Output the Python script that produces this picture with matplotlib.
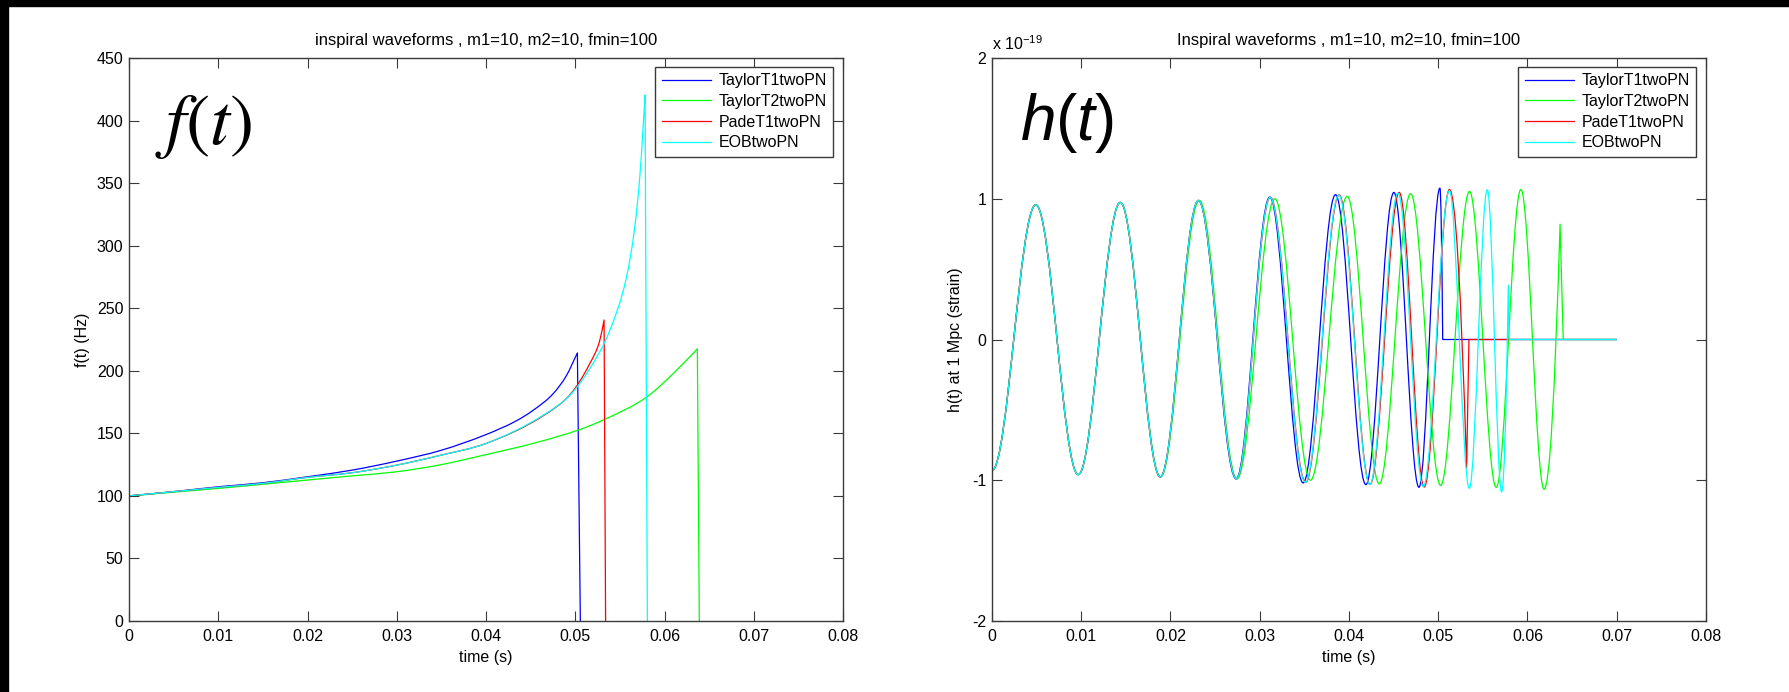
import numpy as np
import matplotlib.pyplot as plt
from matplotlib.path import Path
from matplotlib.patches import PathPatch, Rectangle
from matplotlib.lines import Line2D

plt.rcParams['font.family'] = 'Liberation Sans'
plt.rcParams['axes.unicode_minus'] = False
plt.rcParams['mathtext.fontset'] = 'custom'
plt.rcParams['mathtext.rm'] = 'Liberation Sans'
plt.rcParams['mathtext.it'] = 'Liberation Sans:italic'

names = ['TaylorT1twoPN', 'TaylorT2twoPN', 'PadeT1twoPN', 'EOBtwoPN']
colors = ['#0000ff', '#00ff00', '#ff0000', '#00ffff']

time_ticks = [0, 0.01, 0.02, 0.03, 0.04, 0.05, 0.06, 0.07, 0.08]
time_labels = ['0', '0.01', '0.02', '0.03', '0.04', '0.05', '0.06', '0.07', '0.08']
f_ticks = [0, 50, 100, 150, 200, 250, 300, 350, 400, 450]
h_ticks = [-2, -1, 0, 1, 2]

# --- f(t) in Hz (last point is where the track falls back to zero) ---
t1_f_t = [0, 0.005, 0.01, 0.015, 0.02, 0.025, 0.03, 0.035, 0.04, 0.0434, 0.0453,
          0.0475, 0.049, 0.05024, 0.05057]
t1_f = [100, 103.4, 107.3, 110.5, 115.3, 120.6, 127.8, 136.5, 149, 160, 168.5,
        181.5, 196, 214.3, 0]

t2_f_t = [0, 0.005, 0.01, 0.015, 0.02, 0.025, 0.03, 0.035, 0.04, 0.0453, 0.0505,
          0.0535, 0.058, 0.06095, 0.06368, 0.0639]
t2_f = [100, 103, 106, 109.3, 112.7, 116, 119.3, 125, 133, 142, 153,
        161.8, 179, 197.6, 217.5, 0]

pade_f_t = [0, 0.005, 0.01, 0.015, 0.02, 0.025, 0.03, 0.035, 0.04, 0.0464, 0.04957,
            0.05162, 0.05274, 0.05323, 0.0534]
pade_f = [100, 103.4, 106.8, 110, 114.8, 118.5, 124.6, 132.6, 141.9, 164, 182.2,
          205.6, 224, 240.6, 0]

eob_f_t = [0, 0.005, 0.01, 0.015, 0.02, 0.025, 0.03, 0.035, 0.04, 0.0464, 0.04957,
           0.05162, 0.05386, 0.05573, 0.05666, 0.05722, 0.0576, 0.05782, 0.05808]
eob_f = [100, 103.4, 106.8, 110, 114.8, 118.5, 124.6, 132.6, 141.9, 164.4, 181.7,
         201.6, 232, 274.5, 314.3, 354, 394, 420.5, 0]

# --- h(t) turning points, strain in units of 1e-19 ---
t1_h_t = [0, 0.00491, 0.00967, 0.01438, 0.01886, 0.02313, 0.02735, 0.03112,
          0.03486, 0.03849, 0.04189, 0.04503, 0.04784, 0.05019]
t1_h = [-0.93, 0.957, -0.960, 0.974, -0.976, 0.988, -0.990, 1.012,
        -1.019, 1.029, -1.031, 1.045, -1.050, 1.076]
t1_end_t = [0.0505, 0.0700]
t1_end = [0, 0]

t2_h_t = [0, 0.00491, 0.00967, 0.01438, 0.01890, 0.02323, 0.02745, 0.03169,
          0.03569, 0.03980, 0.04339, 0.04690, 0.05027, 0.05350, 0.05650,
          0.05926, 0.06186]
t2_h = [-0.93, 0.957, -0.960, 0.974, -0.976, 0.988, -0.990, 1.000,
        -1.000, 1.017, -1.026, 1.036, -1.036, 1.052, -1.050,
        1.066, -1.064]
t2_end_t = [0.06365, 0.0640, 0.0700]
t2_end = [0.819, 0, 0]

pade_h_t = [0, 0.00491, 0.00967, 0.01438, 0.01886, 0.02313, 0.02740, 0.03118,
            0.03515, 0.03890, 0.04236, 0.04563, 0.04843, 0.05126]
pade_h = [-0.93, 0.957, -0.960, 0.974, -0.976, 0.988, -0.990, 1.010,
          -1.015, 1.027, -1.030, 1.045, -1.048, 1.066]
pade_end_t = [0.05318, 0.05344, 0.0700]
pade_end = [-0.91, 0, 0]

eob_h_t = [0, 0.00491, 0.00967, 0.01438, 0.01886, 0.02313, 0.02740, 0.03116,
           0.03512, 0.03886, 0.04234, 0.04548, 0.04832, 0.05125, 0.05348,
           0.05550, 0.05711]
eob_h = [-0.93, 0.957, -0.960, 0.974, -0.976, 0.988, -0.990, 1.010,
         -1.015, 1.025, -1.030, 1.040, -1.045, 1.057, -1.057,
         1.064, -1.083]
eob_end_t = [0.05785, 0.05794, 0.0700]
eob_end = [0.386, 0, 0]


def chirp_path(t, f):
    """Smooth Hermite curve through the rising track, straight drop at the end."""
    x = np.asarray(t[:-1], dtype=float)
    y = np.asarray(f[:-1], dtype=float)
    d = np.diff(y) / np.diff(x)
    m = np.empty_like(y)
    m[0], m[-1] = d[0], d[-1]
    m[1:-1] = (d[:-1] + d[1:]) / 2
    verts = [(x[0], y[0])]
    codes = [Path.MOVETO]
    for i in range(len(x) - 1):
        h = (x[i + 1] - x[i]) / 3
        verts += [(x[i] + h, y[i] + m[i] * h), (x[i + 1] - h, y[i + 1] - m[i + 1] * h),
                  (x[i + 1], y[i + 1])]
        codes += [Path.CURVE4] * 3
    verts.append((t[-1], f[-1]))
    codes.append(Path.LINETO)
    return Path(verts, codes)


def wave_path(tx, hx, te, he):
    """Smooth path through turning points (flat tangents there), then the cut-off."""
    k = 1 - 2 / np.pi
    verts = [(tx[0], hx[0])]
    codes = [Path.MOVETO]
    for i in range(1, len(tx)):
        dt = tx[i] - tx[i - 1]
        verts += [(tx[i - 1] + k * dt, hx[i - 1]), (tx[i] - k * dt, hx[i]), (tx[i], hx[i])]
        codes += [Path.CURVE4] * 3
    # last bit of the swing before the waveform is cut
    dt = te[0] - tx[-1]
    verts += [(tx[-1] + 0.5 * dt, hx[-1]), (te[0], he[0])]
    codes += [Path.CURVE3] * 2
    for t, h in zip(te[1:], he[1:]):
        verts.append((t, h))
        codes.append(Path.LINETO)
    return Path(verts, codes)


def style_axes(ax):
    for s in ax.spines.values():
        s.set_color('#3a3a3a')
        s.set_linewidth(1.0)
    ax.tick_params(direction='in', top=True, right=True, length=7, width=0.8,
                   color='#3a3a3a', labelsize=11.5)
    ax.tick_params(axis='x', pad=6)
    ax.tick_params(axis='y', pad=4)


def add_legend(ax):
    handles = [Line2D([], [], color=c, lw=0.9) for c in colors]
    leg = ax.legend(handles, names, loc='upper right', bbox_to_anchor=(0.986, 0.984),
                    borderaxespad=0, fontsize=11.5, handlelength=3.1, handletextpad=0.45,
                    labelspacing=0.35, borderpad=0.4, fancybox=False, framealpha=1)
    leg.get_frame().set_edgecolor('#3a3a3a')
    leg.get_frame().set_linewidth(1.0)


fig = plt.figure(figsize=(17.9, 6.92), dpi=100)
fig.patches.append(Rectangle((0, 1 - 6 / 692), 1, 6 / 692, transform=fig.transFigure,
                             color='black', zorder=0))
fig.patches.append(Rectangle((0, 0), 8 / 1790, 1, transform=fig.transFigure,
                             color='black', zorder=0))

ax1 = fig.add_axes([129 / 1790, 71 / 692, 714 / 1790, 563 / 692])
ax2 = fig.add_axes([992 / 1790, 71 / 692, 714 / 1790, 563 / 692])

# frequency evolution
f_series = [(t1_f_t, t1_f), (t2_f_t, t2_f), (pade_f_t, pade_f), (eob_f_t, eob_f)]
for (t, f), c in zip(f_series, colors):
    ax1.add_patch(PathPatch(chirp_path(t, f), fill=False, edgecolor=c,
                            lw=0.9, joinstyle='round'))

ax1.set_xlim(0, 0.08)
ax1.set_ylim(0, 450)
ax1.set_xticks(time_ticks)
ax1.set_xticklabels(time_labels)
ax1.set_yticks(f_ticks)
ax1.set_title('inspiral waveforms , m1=10, m2=10, fmin=100', fontsize=12, pad=9)
ax1.set_xlabel('time (s)', fontsize=11.5)
ax1.set_ylabel('f(t) (Hz)', fontsize=11.5)
ax1.xaxis.set_label_coords(0.5, -0.052)
ax1.yaxis.set_label_coords(-0.055, 0.5)
style_axes(ax1)
ax1.text(0.036, 0.877, '$f(t)$', transform=ax1.transAxes, fontsize=52,
         math_fontfamily='stix', ha='left', va='center')
add_legend(ax1)

# strain waveforms
h_series = [(t1_h_t, t1_h, t1_end_t, t1_end), (t2_h_t, t2_h, t2_end_t, t2_end),
            (pade_h_t, pade_h, pade_end_t, pade_end), (eob_h_t, eob_h, eob_end_t, eob_end)]
for (tx, hx, te, he), c in zip(h_series, colors):
    ax2.add_patch(PathPatch(wave_path(tx, hx, te, he), fill=False, edgecolor=c,
                            lw=0.9, joinstyle='round'))

ax2.set_xlim(0, 0.08)
ax2.set_ylim(-2, 2)
ax2.set_xticks(time_ticks)
ax2.set_xticklabels(time_labels)
ax2.set_yticks(h_ticks)
ax2.set_title('Inspiral waveforms , m1=10, m2=10, fmin=100', fontsize=12, pad=9)
ax2.set_xlabel('time (s)', fontsize=11.5)
ax2.set_ylabel('h(t) at 1 Mpc (strain)', fontsize=11.5)
ax2.xaxis.set_label_coords(0.5, -0.052)
ax2.yaxis.set_label_coords(-0.04, 0.5)
style_axes(ax2)
ax2.text(0.0, 1.014, r'x 10$^{\mathrm{-19}}$', transform=ax2.transAxes, fontsize=11.5,
         ha='left', va='baseline')
ax2.text(0.105, 0.8845, '$h(t)$', transform=ax2.transAxes, fontsize=46,
         ha='center', va='center')
add_legend(ax2)

fig.savefig('out.png', dpi=100, facecolor='white')
